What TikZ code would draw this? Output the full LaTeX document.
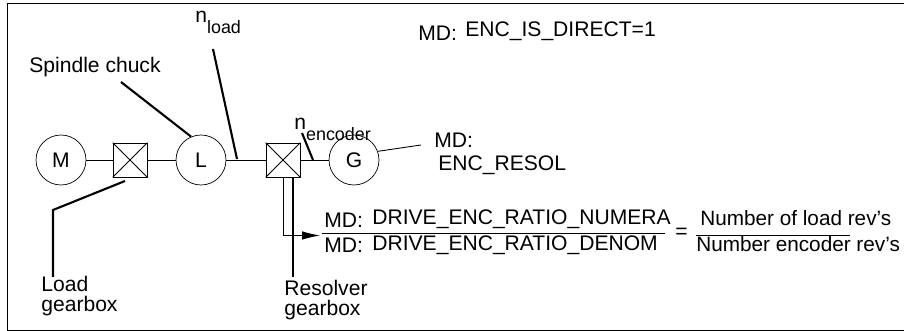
\documentclass[tikz,border=0pt]{standalone}
\usepackage{fontspec}
\setmainfont{Liberation Sans}
\usetikzlibrary{arrows.meta}

\tikzset{
	unit/.style={draw, circle, minimum size=1cm, inner sep=0pt, font=\fontsize{12}{14}\selectfont},
	gearbox/.style={draw, rectangle, minimum size=0.68cm, inner sep=0pt},
	leader/.style={line width=1.2pt},
	shaft/.style={line width=0.5pt},
	label/.style={anchor=west, inner sep=0pt, font=\fontsize{12}{11.6}\selectfont, align=left},
	revlabel/.style={label, font=\fontsize{11.8}{14}\selectfont}
}
\newcommand{\lowtext}[1]{\raisebox{-5.7pt}{\fontsize{10.2}{12}\selectfont #1}}

\begin{document}
\begin{tikzpicture}[x=0.02cm, y=-0.02cm]
		\useasboundingbox (0,0) rectangle (904,331);
		
		% Frame around the diagram, open on the right
		\draw[shaft] (904,3) -- (7,3) -- (7,330) -- (904,330);
		
		% Motor, load and encoder on the shaft
		\node[unit] (motor) at (61,160) {M};
		\node[gearbox] (loadbox) at (130,160) {};
		\node[unit] (chuck) at (201,160) {L};
		\node[gearbox] (resolverbox) at (283,160) {};
		\node[unit] (encoder) at (354,160) {G};
		
		% Crosses in the gearboxes
		\draw[shaft] (loadbox.north west) -- (loadbox.south east);
		\draw[shaft] (loadbox.north east) -- (loadbox.south west);
		\draw[shaft] (resolverbox.north west) -- (resolverbox.south east);
		\draw[shaft] (resolverbox.north east) -- (resolverbox.south west);
		
		% Shaft pieces
		\draw[shaft] (motor) -- (loadbox);
		\draw[shaft] (loadbox) -- (chuck);
		\draw[shaft] (chuck) -- (resolverbox);
		\draw[shaft] (resolverbox) -- (encoder);
		
		% Labels
		\node[label, anchor=base west] (nload) at (195,23) {n\lowtext{load}};
		\node[label] (spindle) at (29,67) {Spindle chuck};
		\node[label, anchor=base west] (nencoder) at (294,130) {n\lowtext{encoder}};
		\node[label, text width=2.2cm] (loadlabel) at (41,296) {Load\\gearbox};
		\node[label, text width=2.2cm] (resolverlabel) at (284,300) {Resolver\\gearbox};
		\node[label] (mdtitle) at (418,33) {MD:};
		\node[label] (enctitle) at (465,31) {ENC\_IS\_DIRECT=1};
		\node[label] (mdresol) at (434,140) {MD:};
		\node[label] (encresol) at (438,165) {ENC\_RESOL};
		
		% Ratio of the machine data
		\node[label] (mdnum) at (324,220) {MD:};
		\node[label] (num) at (372,219) {DRIVE\_ENC\_RATIO\_NUMERA};
		\node[label] (mddenom) at (324,245) {MD:};
		\node[label] (denom) at (372,245) {DRIVE\_ENC\_RATIO\_DENOM};
		\node[label] (equals) at (675,233) {=};
		\node[revlabel] (loadrevs) at (700,218) {Number of load rev's};
		\node[revlabel] (encoderrevs) at (696,244) {Number encoder rev's};
		
		% Ends of the leader lines
		\coordinate (nloadtop) at (213,49);
		\coordinate (nloadtip) at (237,159);
		\coordinate (spindletop) at (121,82);
		\coordinate (nenctop) at (302,133);
		\coordinate (nenctip) at (313,160);
		\coordinate (loadtip) at (125,181);
		\coordinate (loadbend) at (53,210);
		\coordinate (loadend) at (53,277);
		\coordinate (resolvertip) at (293,178);
		\coordinate (resolverend) at (293,277);
		\coordinate (resoltip) at (421,145);
		\coordinate (ratiobend) at (283,235.5);
		\coordinate (ratiotip) at (320,235.5);
		
		% Leader lines
		\draw[leader] (nloadtop) -- (nloadtip);
		\draw[leader] (spindletop) -- (chuck.113);
		\draw[leader] (nenctop) -- (nenctip);
		\draw[leader] (loadtip) -- (loadbend) -- (loadend);
		\draw[leader] (resolvertip) -- (resolverend);
		\draw[shaft] (encoder.20) -- (resoltip);
		
		% Arrow to the ratio
		\draw[shaft, -{Latex[length=3.6mm, width=1.7mm]}] (resolverbox.south) -- (ratiobend) -- (ratiotip);
		
		% Fraction lines
		\coordinate (numleft) at (322,233);
		\coordinate (numright) at (665,233);
		\coordinate (revleft) at (696,235);
		\coordinate (revright) at (850,235);
		\draw[shaft] (numleft) -- (numright);
		\draw[shaft] (revleft) -- (revright);
		
	\end{tikzpicture}
\end{document}
